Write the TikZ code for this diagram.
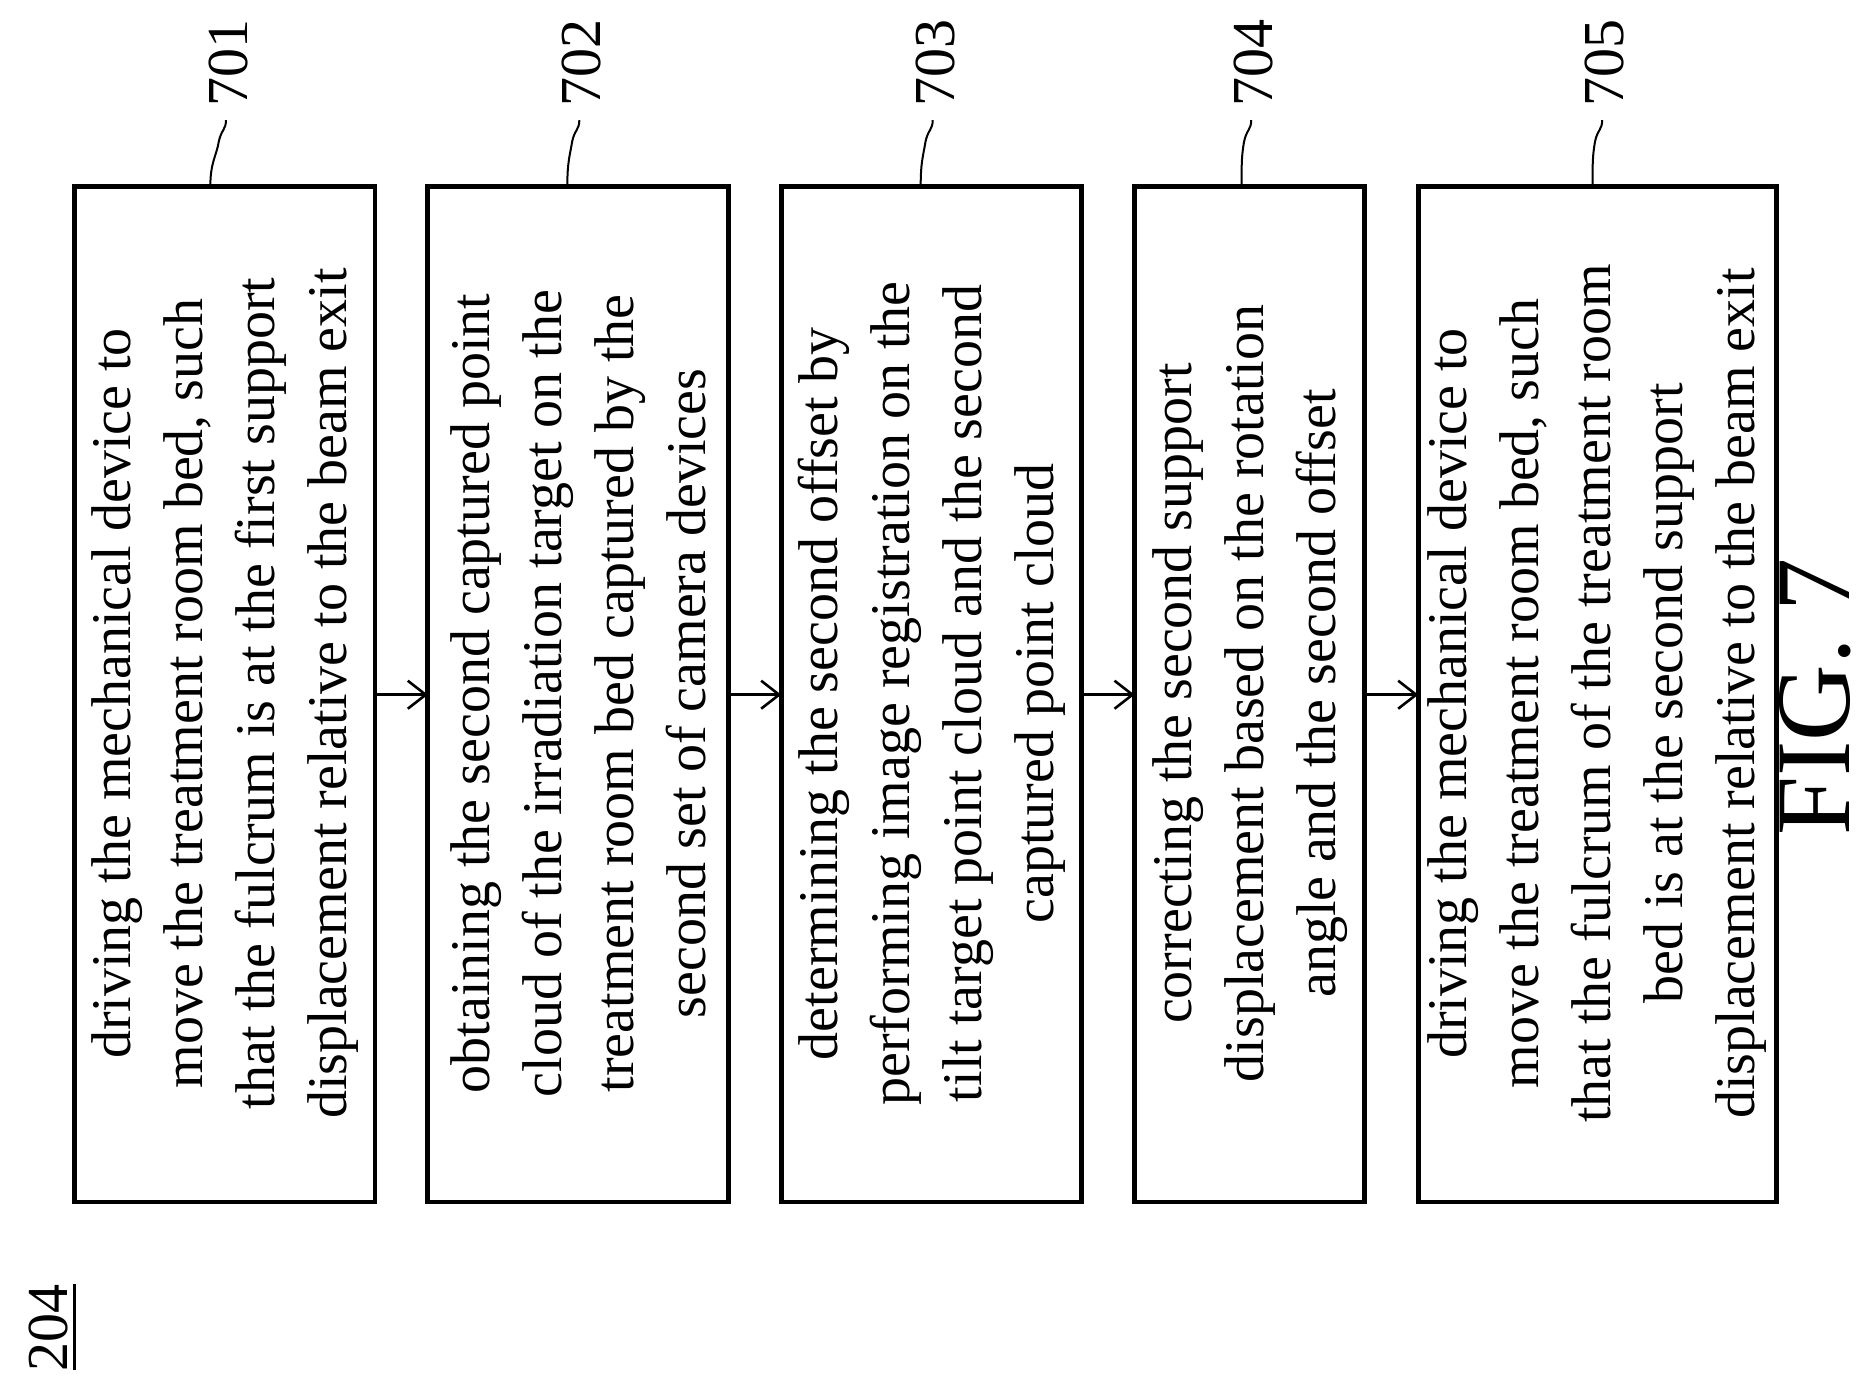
\documentclass[tikz,border=0pt]{standalone}
\usepackage{fontspec}
\setmainfont{Liberation Serif}
\begin{document}
\begin{tikzpicture}[x=0.601pt,y=-0.601pt,
 box/.style={draw,line width=2.4pt},
 txt/.style={rotate=90,align=center,font=\fontsize{28}{36}\selectfont,inner sep=0},
 lab/.style={rotate=90,font=\fontsize{29}{30}\selectfont},
 arr/.style={-{Straight Barb[length=9pt,width=14pt,line width=1.3pt]},line width=1.3pt}]
\usetikzlibrary{arrows.meta}
\useasboundingbox (0,0) rectangle (1560,1154);
\draw[box] (62,155) rectangle (312,1000); \node[txt] (t1) at (187,577) {driving the mechanical device to\\ move the treatment room bed, such\\ that the fulcrum is at the first support\\ displacement relative to the beam exit};
\draw[box] (356,155) rectangle (606,1000); \node[txt] (t2) at (481,577) {obtaining the second captured point\\ cloud of the irradiation target on the\\ treatment room bed captured by the\\ second set of camera devices};
\draw[box] (650,155) rectangle (900,1000); \node[txt] (t3) at (775,577) {determining the second offset by\\ performing image registration on the\\ tilt target point cloud and the second\\ captured point cloud};
\draw[box] (944,155) rectangle (1135,1000); \node[txt] (t4) at (1040,577) {correcting the second support\\ displacement based on the rotation\\ angle and the second offset};
\draw[box] (1180,155) rectangle (1478,1000); \node[txt] (t5) at (1329,577) {driving the mechanical device to\\ move the treatment room bed, such\\ that the fulcrum of the treatment room\\ bed is at the second support\\ displacement relative to the beam exit};
\coordinate (a1) at (312,578); \coordinate (b1) at (356,578);
\coordinate (a2) at (606,578); \coordinate (b2) at (650,578);
\coordinate (a3) at (900,578); \coordinate (b3) at (944,578);
\coordinate (a4) at (1135,578); \coordinate (b4) at (1180,578);
\foreach \i in {1,...,4} \draw[arr] (a\i) -- (b\i);
\foreach \n/\x/\s in {701/190/175,702/484/472,703/778/766,704/1043/1033,705/1335/1325}{
 \node[lab] (L\n) at (\x,52) {\n};
 \coordinate (s\n) at (\s,155);
 \draw[line width=1pt] (s\n) .. controls (\s,135) and (\x-10,130) .. (\x-8,118) .. controls (\x-6,108) and (\x-2,108) .. (\x-2,100);
}
\node[lab] (n204) at (40,1105) {204};
\draw[line width=1.2pt] (62,1068) -- (62,1140);
\node[rotate=90,font=\fontsize{53}{53}\selectfont] (fig) at (1510,580) {FIG. 7};
\end{tikzpicture}
\end{document}
